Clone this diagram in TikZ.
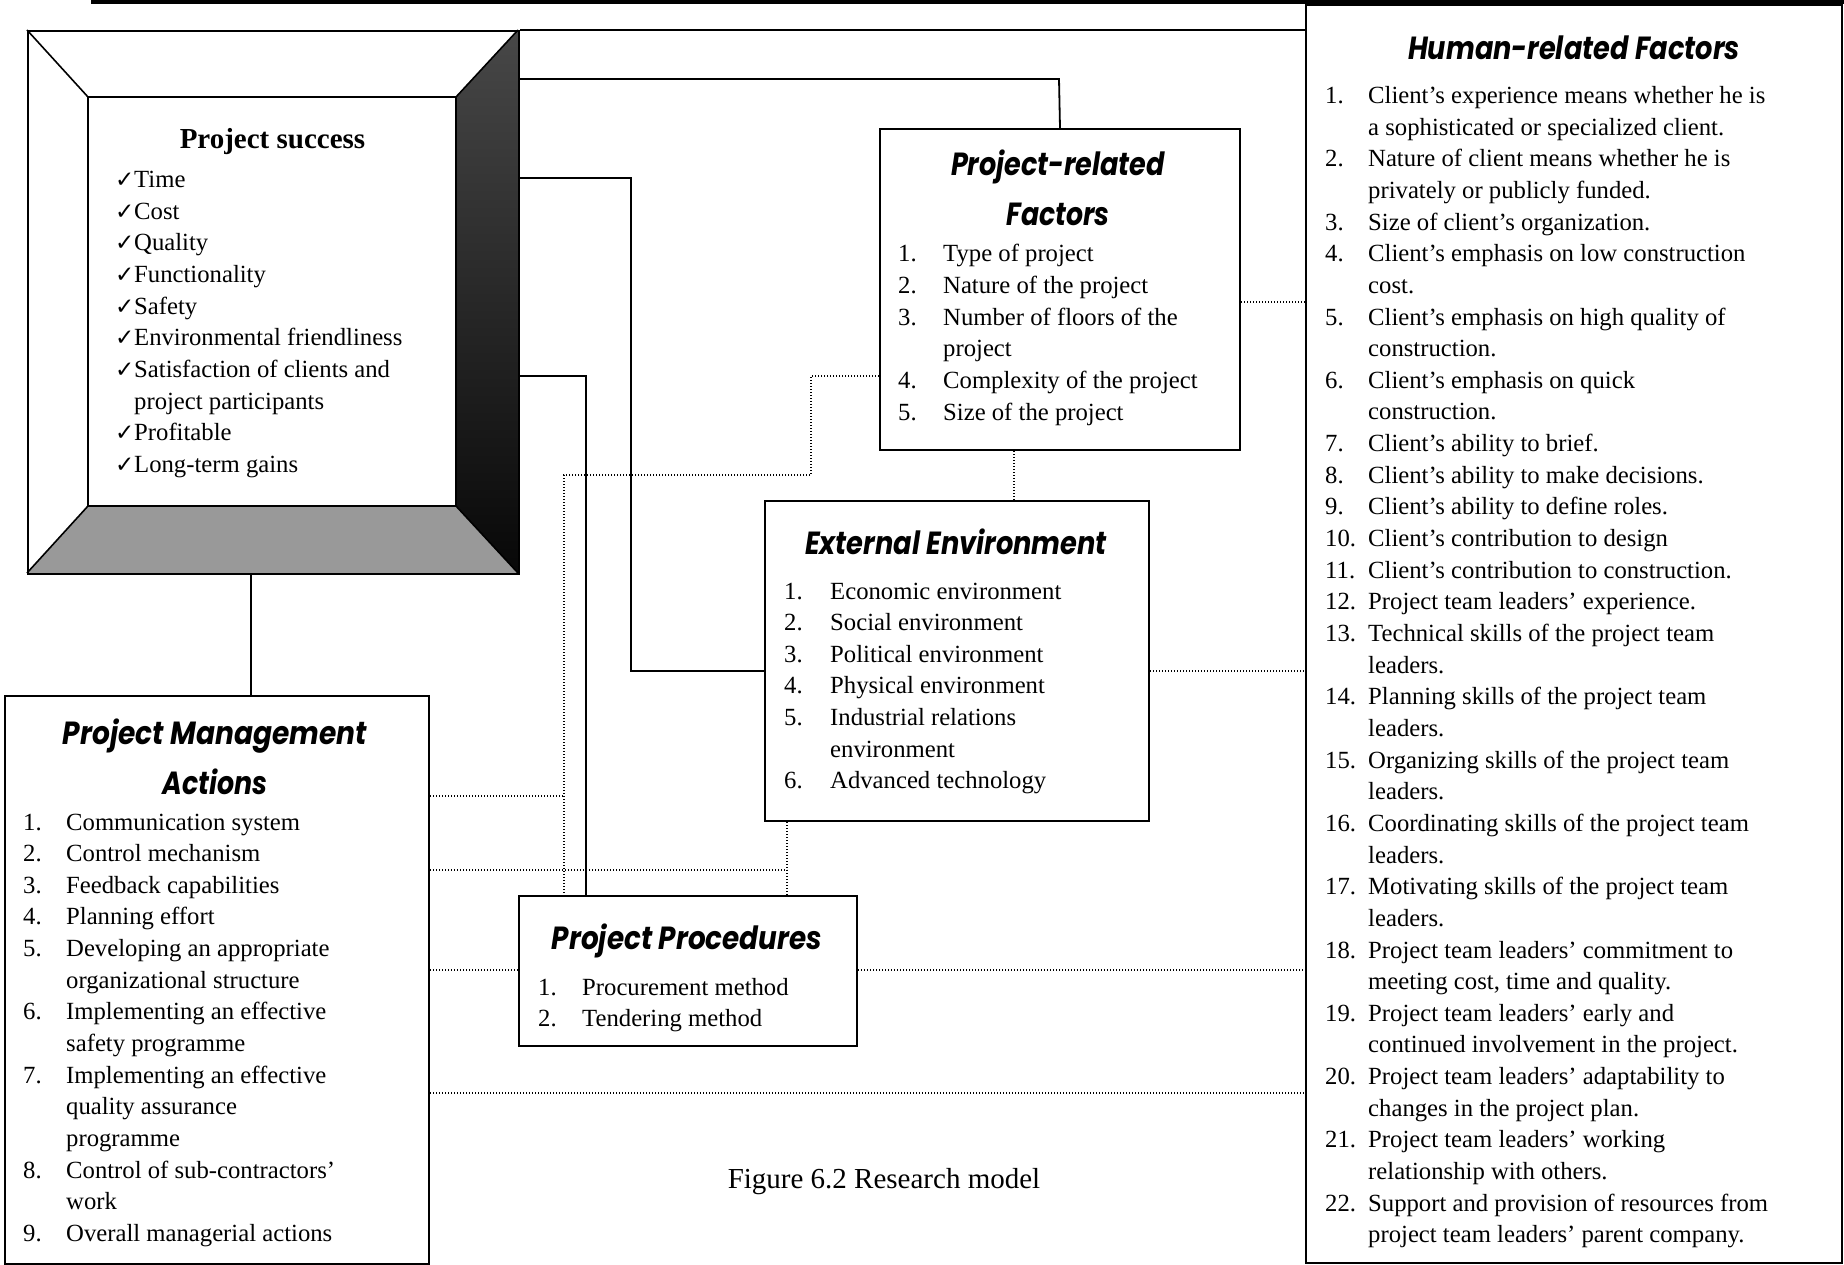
\documentclass[tikz,border=0pt]{standalone}
\usepackage{fontspec}
\usepackage{graphicx}
\setmainfont{Liberation Serif}
\newfontfamily\headfont{Poppins}
\newfontfamily\symfont{DejaVu Sans}
\newcommand\bodysize{\fontsize{24.7pt}{31.65pt}\selectfont}
\newcommand\headsize{\fontsize{32pt}{40pt}\selectfont}
\newlength\numw
% ragged-right list block in which \\ stays inside the paragraph
\newcommand\listsetup[1]{\parindent=0pt\rightskip=0pt plus 1fil\relax\setlength\numw{#1}}
% numbered entry with hanging indent
\newcommand\entry[2]{\par\hangindent=\numw\hangafter=1\noindent\makebox[\numw][l]{#1}#2}
\newcommand\tick[1]{\entry{{\symfont\fontsize{23pt}{23pt}\selectfont ✓}}{#1}}
% heading squeezed or stretched to a given width
\newcommand\fitto[2]{\resizebox{#1}{\height}{#2}}

\begin{document}
\begin{tikzpicture}[x=1pt,y=-1pt,
  frame/.style={draw, line width=2pt, inner sep=0pt, anchor=north west},
  link/.style={line width=1.8pt},
  dotlink/.style={line width=1.4pt, dash pattern=on 1.4pt off 1.6pt},
  listtext/.style={anchor=base west, inner sep=0pt, font=\bodysize},
  heading/.style={anchor=base, inner sep=0pt, font=\headfont\bfseries\itshape\headsize},
]
\useasboundingbox (0,0) rectangle (1844,1265);

% rule across the top of the page
\draw[line width=3.5pt] (91,2) -- (1844,2);

% ---------- bevelled frame: Project success ----------
\coordinate (o1) at (27,30);  \coordinate (o2) at (518,30);
\coordinate (o3) at (518,573); \coordinate (o4) at (27,573);
\coordinate (i1) at (88,97);  \coordinate (i2) at (456,97);
\coordinate (i3) at (456,506); \coordinate (i4) at (88,506);
\fill[black!40] (o4) -- (i4) -- (i3) -- (o3) -- cycle;
\shade[top color=black!72, bottom color=black!97] (o2) -- (i2) -- (i3) -- (o3) -- cycle;
\node[frame, minimum width=491pt, minimum height=543pt] (ps) at (o1) {};
\draw[line width=1.6pt] (i1) rectangle (i3);
\draw[line width=1.6pt] (o1) -- (i1) (o2) -- (i2) (o3) -- (i3) (o4) -- (i4);

\node[anchor=base, inner sep=0pt, font=\bfseries\fontsize{29pt}{34pt}\selectfont]
  (ps-title) at (272.5,149) {Project success};
\node[listtext] (ps-list) at (115,187.5) {\parbox[t]{330pt}{\listsetup{19pt}%
  \tick{Time}
  \tick{Cost}
  \tick{Quality}
  \tick{Functionality}
  \tick{Safety}
  \tick{Environmental friendliness}
  \tick{Satisfaction of clients and\\project participants}
  \tick{Profitable}
  \tick{Long-term gains}}};

% ---------- boxes ----------
\node[frame, minimum width=536pt, minimum height=1258pt] (hrf) at (1305,4) {};
\node[frame, minimum width=360pt, minimum height=321pt] (prf) at (879,128) {};
\node[frame, minimum width=384pt, minimum height=320pt] (ee) at (764,500) {};
\node[frame, minimum width=338pt, minimum height=150pt] (pp) at (518,895) {};
\node[frame, minimum width=424pt, minimum height=568pt] (pm) at (4,695) {};

% Human-related factors
\node[heading] (hrf-title) at (1574,60) {\fitto{332pt}{Human-related Factors}};
\node[listtext] (hrf-list) at (1325,103.5) {\parbox[t]{500pt}{\listsetup{43pt}%
  \entry{1.}{Client’s experience means whether he is\\a sophisticated or specialized client.}
  \entry{2.}{Nature of client means whether he is\\privately or publicly funded.}
  \entry{3.}{Size of client’s organization.}
  \entry{4.}{Client’s emphasis on low construction\\cost.}
  \entry{5.}{Client’s emphasis on high quality of\\construction.}
  \entry{6.}{Client’s emphasis on quick\\construction.}
  \entry{7.}{Client’s ability to brief.}
  \entry{8.}{Client’s ability to make decisions.}
  \entry{9.}{Client’s ability to define roles.}
  \entry{10.}{Client’s contribution to design}
  \entry{11.}{Client’s contribution to construction.}
  \entry{12.}{Project team leaders’ experience.}
  \entry{13.}{Technical skills of the project team\\leaders.}
  \entry{14.}{Planning skills of the project team\\leaders.}
  \entry{15.}{Organizing skills of the project team\\leaders.}
  \entry{16.}{Coordinating skills of the project team\\leaders.}
  \entry{17.}{Motivating skills of the project team\\leaders.}
  \entry{18.}{Project team leaders’ commitment to\\meeting cost, time and quality.}
  \entry{19.}{Project team leaders’ early and\\continued involvement in the project.}
  \entry{20.}{Project team leaders’ adaptability to\\changes in the project plan.}
  \entry{21.}{Project team leaders’ working\\relationship with others.}
  \entry{22.}{Support and provision of resources from\\project team leaders’ parent company.}}};

% Project-related factors
\node[heading] (prf-title1) at (1058,176) {\fitto{214pt}{Project-related}};
\node[heading] (prf-title2) at (1058,225.5) {\fitto{103pt}{Factors}};
\node[listtext] (prf-list) at (898,262) {\parbox[t]{330pt}{\listsetup{45pt}%
  \entry{1.}{Type of project}
  \entry{2.}{Nature of the project}
  \entry{3.}{Number of floors of the\\project}
  \entry{4.}{Complexity of the project}
  \entry{5.}{Size of the project}}};

% External environment
\node[heading] (ee-title) at (956,554.6) {\fitto{302pt}{External Environment}};
\node[listtext] (ee-list) at (784,599) {\parbox[t]{350pt}{\listsetup{46pt}%
  \entry{1.}{Economic environment}
  \entry{2.}{Social environment}
  \entry{3.}{Political environment}
  \entry{4.}{Physical environment}
  \entry{5.}{Industrial relations\\environment}
  \entry{6.}{Advanced technology}}};

% Project procedures
\node[heading] (pp-title) at (687,949) {\fitto{270pt}{Project Procedures}};
\node[listtext] (pp-list) at (538,995) {\parbox[t]{310pt}{\listsetup{44pt}%
  \entry{1.}{Procurement method}
  \entry{2.}{Tendering method}}};

% Project management actions
\node[heading] (pm-title1) at (215,744) {\fitto{304pt}{Project Management}};
\node[heading] (pm-title2) at (215,794) {\fitto{105pt}{Actions}};
\node[listtext] (pm-list) at (23,830) {\parbox[t]{400pt}{\listsetup{43pt}%
  \entry{1.}{Communication system}
  \entry{2.}{Control mechanism}
  \entry{3.}{Feedback capabilities}
  \entry{4.}{Planning effort}
  \entry{5.}{Developing an appropriate\\organizational structure}
  \entry{6.}{Implementing an effective\\safety programme}
  \entry{7.}{Implementing an effective\\quality assurance\\programme}
  \entry{8.}{Control of sub-contractors’\\work}
  \entry{9.}{Overall managerial actions}}};

% caption
\node[anchor=base, inner sep=0pt, font=\fontsize{29pt}{34pt}\selectfont]
  (caption) at (884,1188) {Figure 6.2 Research model};

% ---------- connectors ----------
\coordinate (j1) at (1059,79);
\coordinate (j2) at (631,178);
\coordinate (j3) at (631,671);
\coordinate (j4) at (586,376);
\coordinate (j5) at (251,0);
\draw[link] (ps.north east) -- (ps.north east -| hrf.west);
\draw[link] (j1 -| ps.east) -- (j1) -- (prf.north);
\draw[link] (j2 -| ps.east) -- (j2) -- (j3) -- (j3 -| ee.west);
\draw[link] (j4 -| ps.east) -- (j4) -- (j4 |- pp.north);
\draw[link] (ps.south -| j5) -- (pm.north -| j5);

\coordinate (d1) at (0,302);
\coordinate (d2) at (811,376);
\coordinate (d3) at (811,475);
\coordinate (d4) at (564,475);
\coordinate (d5) at (1014,0);
\coordinate (d6) at (787,870);
\coordinate (d7) at (564,796);
\coordinate (d8) at (0,970);
\coordinate (d9) at (0,1093);
\draw[dotlink] (prf.east |- d1) -- (hrf.west |- d1);
\draw[dotlink] (d2 -| prf.west) -- (d2) -- (d3) -- (d4) -- (d4 |- pp.north);
\draw[dotlink] (prf.south -| d5) -- (ee.north -| d5);
\draw[dotlink] (j3 -| ee.east) -- (j3 -| hrf.west);
\draw[dotlink] (ee.south -| d6) -- (pp.north -| d6);
\draw[dotlink] (pm.east |- d7) -- (d7);
\draw[dotlink] (pm.east |- d6) -- (d6);
\draw[dotlink] (pm.east |- d8) -- (pp.west |- d8);
\draw[dotlink] (pp.east |- d8) -- (hrf.west |- d8);
\draw[dotlink] (pm.east |- d9) -- (hrf.west |- d9);
\end{tikzpicture}
\end{document}
